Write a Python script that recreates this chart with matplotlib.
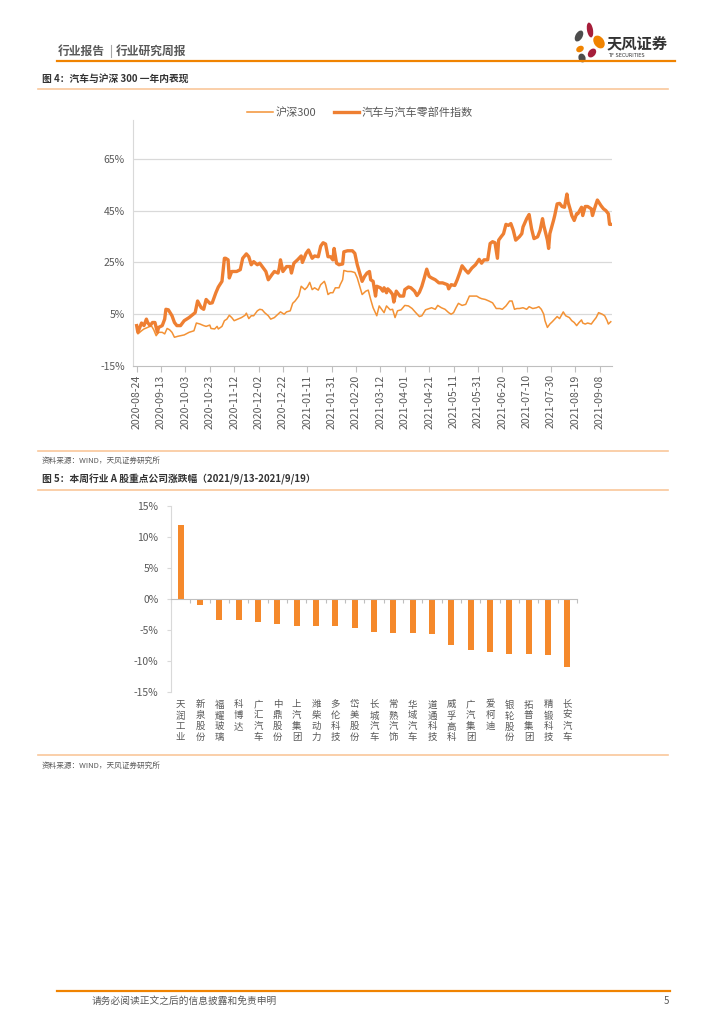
""" Auto sector vs CSI 300, and weekly moves of key auto stocks """

import numpy as np
import pandas as pd
import matplotlib
matplotlib.use("Agg")
import matplotlib.pyplot as plt
import matplotlib.dates as mdates
import matplotlib.patches as patches
from matplotlib.ticker import FuncFormatter

plt.rcParams['font.family'] = ['Noto Sans CJK SC', 'DejaVu Sans']

W, H = 724, 1024

# ---- chart 1 data: day offset from start date, cumulative return in % ----
start_date = "2020-08-24"

auto_days = [0, 1, 4, 6, 8, 9, 11, 13, 15, 17, 18, 21, 23, 24, 26, 29, 31, 33,
             36, 39, 43, 48, 50, 53, 55, 57, 60, 62, 65, 67, 70, 72, 73, 75,
             76, 78, 82, 85, 87, 90, 92, 94, 96, 99, 101, 104, 106, 108, 111,
             113, 116, 117, 118, 120, 123, 126, 127, 129, 132, 135, 136, 139,
             141, 144, 146, 149, 151, 153, 155, 157, 159, 161, 162, 164, 166,
             169, 170, 173, 177, 179, 181, 183, 185, 187, 189, 191, 192, 194,
             196, 197, 200, 202, 203, 205, 206, 208, 210, 211, 213, 216, 219,
             220, 223, 225, 228, 230, 232, 234, 236, 238, 240, 242, 245, 248,
             251, 255, 256, 258, 261, 263, 265, 267, 270, 272, 275, 278, 281,
             283, 285, 288, 290, 292, 294, 296, 297, 299, 301, 303, 305, 307,
             309, 311, 314, 316, 317, 320, 322, 324, 326, 329, 331, 333, 334,
             337, 338, 339, 342, 343, 345, 347, 349, 351, 353, 354, 356, 357,
             359, 361, 362, 365, 366, 368, 370, 373, 374, 376, 378, 381, 383,
             385, 387, 388, 389]
auto_vals = [0.6, -2.0, 1.6, 0.6, 3.1, 1.8, 0.6, 1.8, 1.8, -2.0, -0.1, 0.6,
             3.1, 6.9, 6.7, 4.4, 1.8, 0.6, 0.6, 2.5, 3.7, 5.6, 10.1, 7.5, 6.9,
             10.7, 9.2, 9.4, 13.3, 15.5, 17.7, 26.6, 26.6, 26.0, 19.0, 21.5,
             21.5, 22.2, 26.6, 28.3, 27.2, 24.1, 25.3, 24.1, 24.7, 22.8, 21.5,
             18.3, 20.3, 21.5, 20.9, 22.8, 26.0, 21.5, 23.4, 23.4, 20.9, 24.7,
             26.0, 27.5, 25.0, 28.5, 29.8, 26.6, 27.5, 27.2, 31.3, 32.6, 32.1,
             27.2, 27.2, 26.0, 30.4, 24.7, 24.1, 24.4, 29.1, 29.5, 29.5, 28.5,
             24.1, 20.9, 17.7, 19.6, 20.9, 21.5, 18.3, 17.7, 12.0, 15.8, 15.2,
             13.9, 15.2, 13.3, 14.8, 13.9, 12.6, 9.7, 13.9, 12.0, 12.0, 14.5,
             15.5, 15.2, 13.9, 12.2, 13.5, 15.8, 19.0, 22.4, 19.6, 19.0, 18.3,
             17.1, 17.1, 16.4, 14.8, 16.4, 16.1, 18.3, 20.9, 23.7, 21.9, 20.9,
             22.8, 24.1, 26.2, 24.7, 26.0, 26.0, 32.3, 33.0, 32.6, 26.6, 33.6,
             34.9, 36.1, 39.7, 39.3, 40.0, 37.4, 33.6, 34.9, 36.1, 38.7, 41.9,
             43.5, 38.0, 34.2, 34.9, 37.4, 41.9, 39.3, 33.6, 30.4, 36.1, 41.2,
             43.1, 47.6, 47.8, 46.6, 46.3, 51.4, 48.2, 45.0, 43.1, 41.2, 43.8,
             43.8, 46.3, 43.1, 46.6, 46.6, 45.7, 43.1, 46.3, 49.1, 46.9, 45.7,
             45.0, 43.8, 39.7, 39.7]

hs300_days = [0, 1, 4, 6, 9, 12, 14, 16, 18, 21, 23, 25, 27, 29, 31, 34, 39,
              43, 47, 49, 52, 55, 57, 60, 61, 64, 66, 67, 70, 72, 74, 76, 78,
              80, 83, 86, 89, 90, 92, 94, 96, 99, 101, 103, 105, 108, 110, 113,
              116, 118, 121, 123, 126, 128, 130, 133, 135, 138, 140, 142, 144,
              146, 149, 151, 154, 155, 157, 159, 161, 163, 166, 167, 169, 170,
              173, 176, 179, 181, 183, 185, 188, 190, 192, 194, 197, 199, 201,
              203, 205, 208, 210, 212, 214, 217, 220, 223, 226, 229, 232, 234,
              237, 240, 242, 245, 247, 250, 253, 256, 258, 260, 262, 264, 267,
              270, 273, 276, 279, 281, 283, 286, 289, 292, 295, 298, 300, 303,
              306, 308, 310, 312, 314, 317, 320, 322, 325, 328, 330, 332, 334,
              335, 337, 339, 341, 343, 345, 347, 350, 352, 355, 357, 359, 361,
              363, 365, 366, 368, 370, 373, 375, 377, 379, 382, 384, 386, 387,
              389]
hs300_vals = [0.6, -2.6, -1.4, -0.7, -0.1, 0.6, -1.0, -3.3, -2.0, -2.0, -2.6,
              -0.5, -1.0, -2.0, -3.9, -3.5, -3.0, -2.0, -1.4, 1.6, 1.2, 0.6,
              0.3, 0.8, -0.5, -0.7, 0.3, -0.7, 0.3, 2.5, 3.1, 4.6, 3.7, 2.5,
              3.1, 3.7, 4.6, 5.4, 3.3, 4.4, 4.4, 6.3, 6.9, 6.7, 5.6, 4.4, 3.1,
              3.7, 5.0, 5.9, 5.0, 5.9, 6.3, 9.2, 10.1, 12.0, 15.8, 14.5, 15.5,
              17.3, 14.5, 15.2, 14.3, 16.4, 17.7, 16.4, 12.6, 13.3, 13.3, 15.2,
              15.2, 16.4, 18.3, 21.9, 21.5, 21.5, 21.1, 19.0, 15.8, 12.6, 13.9,
              14.3, 10.7, 7.5, 4.4, 8.2, 6.9, 5.6, 8.2, 6.7, 6.9, 3.7, 6.3, 6.7,
              8.4, 8.2, 7.2, 5.6, 4.1, 4.4, 6.7, 7.2, 7.5, 6.9, 8.4, 7.5, 6.9,
              5.6, 5.0, 5.6, 7.5, 9.2, 8.4, 8.8, 12.0, 12.0, 12.0, 11.4, 11.0,
              10.7, 10.1, 9.4, 7.2, 7.2, 6.9, 8.2, 10.1, 10.1, 6.9, 7.2, 7.2,
              7.5, 6.9, 7.9, 7.2, 7.5, 7.9, 6.9, 5.0, 2.5, -0.1, 1.2, 2.1, 3.1,
              4.1, 3.3, 5.9, 4.4, 3.7, 2.5, 1.8, 0.6, 1.8, 2.8, 1.6, 1.2, 1.6,
              1.2, 2.5, 3.7, 5.6, 5.0, 4.4, 2.5, 1.2, 2.1]

date_ticks = pd.date_range("2020-08-24", "2021-09-17", freq="20D")

# ---- chart 2 data: weekly change in % ----
companies = ["天润工业", "新泉股份", "福耀玻璃", "科博达", "广汇汽车", "中鼎股份",
             "上汽集团", "潍柴动力", "多伦科技", "岱美股份", "长城汽车", "常熟汽饰",
             "华域汽车", "道通科技", "威孚高科", "广汽集团", "爱柯迪", "银轮股份",
             "拓普集团", "精锻科技", "长安汽车"]
changes = [11.9, -1.0, -3.4, -3.4, -3.7, -4.1, -4.3, -4.3, -4.4, -4.6, -5.4,
           -5.5, -5.5, -5.6, -7.4, -8.2, -8.6, -8.8, -8.9, -9.1, -11.0]


def box(left, top, right, bottom):
    """ Pixel box to figure fraction """
    return [left / W, 1 - bottom / H, (right - left) / W, (bottom - top) / H]


def pct(v, _):
    return "%d%%" % round(v)


def draw_page(page):
    """ Header, captions, rules, footer """
    orange = "#F08300"
    rule = "#F9C79B"
    page.plot([57, 675], [60.5, 60.5], color=orange, lw=1.6)
    page.text(58, 51, "行业报告", fontsize=8.5, color="#595959",
              fontweight="bold", va="center")
    page.plot([111, 111], [45, 57], color="#A6A6A6", lw=0.8)
    page.text(116, 51, "行业研究周报", fontsize=8.5, color="#595959",
              fontweight="bold", va="center")
    # logo petals
    petals = [(579, 36, 7, 12, 30, "#4D4D4D"), (590, 30, 6, 15, -10, "#A61E3A"),
              (599, 42, 10, 14, -35, orange), (580, 49, 6, 8, 60, orange),
              (592, 53, 7, 10, 40, "#A61E3A"), (582, 58, 7, 9, -20, "#4D4D4D")]
    for x, y, w, h, a, c in petals:
        page.add_patch(patches.Ellipse((x, y), w, h, angle=a, color=c, lw=0))
    page.text(607, 43, "天风证券", fontsize=11, color="#333333",
              fontweight="bold", va="center")
    page.text(608, 55.5, "TF SECURITIES", fontsize=3.6, color="#333333",
              va="center", family="DejaVu Sans")

    page.text(42, 79, "图 4：汽车与沪深 300 一年内表现", fontsize=7,
              color="#333333", fontweight="bold", va="center")
    page.plot([38, 668], [88.5, 88.5], color=rule, lw=1.2)
    page.plot([38, 668], [450.5, 450.5], color=rule, lw=1.2)
    page.text(42, 461, "资料来源：WIND，天风证券研究所", fontsize=5.5,
              color="#595959", va="center")
    page.text(42, 479, "图 5：本周行业 A 股重点公司涨跌幅（2021/9/13-2021/9/19）",
              fontsize=7, color="#333333", fontweight="bold", va="center")
    page.plot([38, 668], [489.5, 489.5], color=rule, lw=1.2)
    page.plot([38, 668], [754.5, 754.5], color=rule, lw=1.2)
    page.text(42, 766, "资料来源：WIND，天风证券研究所", fontsize=5.5,
              color="#595959", va="center")

    page.plot([57, 670], [990.5, 990.5], color=orange, lw=1.6)
    page.text(92, 1001, "请务必阅读正文之后的信息披露和免责申明", fontsize=7,
              color="#595959", va="center")
    page.text(664, 1001, "5", fontsize=7, color="#595959", va="center")


def plot_lines(fig):
    """ Auto index vs CSI 300 """
    ax = fig.add_axes(box(133, 120, 612, 366))
    start = np.datetime64(start_date)
    hs_dates = start + np.array(hs300_days).astype("timedelta64[D]")
    auto_dates = start + np.array(auto_days).astype("timedelta64[D]")
    ax.plot(hs_dates, hs300_vals, color="#F39235", lw=1.1, label="沪深300")
    ax.plot(auto_dates, auto_vals, color="#EE7F32", lw=2.4,
            label="汽车与汽车零部件指数")
    ax.set_ylim(-15, 80)
    ax.set_yticks([-15, 5, 25, 45, 65])
    ax.yaxis.set_major_formatter(FuncFormatter(pct))
    for v in [5, 25, 45, 65]:
        ax.axhline(v, color="#D9D9D9", lw=0.9, zorder=0)
    ax.set_xlim(np.datetime64("2020-08-21"), np.datetime64("2021-09-18"))
    ax.set_xticks(date_ticks)
    ax.xaxis.set_major_formatter(mdates.DateFormatter("%Y-%m-%d"))
    plt.setp(ax.get_xticklabels(), rotation=90)
    ax.tick_params(axis="x", length=4, color="#BFBFBF", labelsize=7.6,
                   labelcolor="#595959", pad=2)
    ax.tick_params(axis="y", length=0, labelsize=7.5, labelcolor="#595959",
                   pad=6)
    for s in ["top", "right"]:
        ax.spines[s].set_visible(False)
    ax.spines["left"].set_color("#D9D9D9")
    ax.spines["bottom"].set_color("#BFBFBF")
    leg = fig.legend(loc="center", bbox_to_anchor=(360 / W, 1 - 113 / H),
                     ncol=2, frameon=False, fontsize=8, handlelength=2.3,
                     handletextpad=0.2, columnspacing=1.6)
    for t in leg.get_texts():
        t.set_color("#595959")


def plot_bars(fig):
    """ Weekly move of key companies """
    ax = fig.add_axes(box(171, 506, 577, 692))
    x = np.arange(len(companies))
    ax.bar(x, changes, width=0.31, color="#F5892B")
    ax.set_xlim(-0.5, len(companies) - 0.5)
    ax.set_ylim(-15, 15)
    ax.set_yticks(range(-15, 16, 5))
    ax.yaxis.set_major_formatter(FuncFormatter(pct))
    ax.tick_params(axis="y", length=3, color="#D9D9D9", labelsize=7.5,
                   labelcolor="#595959", pad=6)
    ax.spines["bottom"].set_position(("data", 0))
    ax.spines["bottom"].set_color("#BFBFBF")
    ax.spines["left"].set_color("#D9D9D9")
    for s in ["top", "right"]:
        ax.spines[s].set_visible(False)
    ax.set_xticks(np.arange(-0.5, len(companies), 1))
    ax.set_xticklabels([])
    ax.tick_params(axis="x", length=3, color="#BFBFBF")
    for i, name in enumerate(companies):
        ax.text(i, -0.045, "\n".join(name), transform=ax.get_xaxis_transform(),
                ha="center", va="top", fontsize=6.8, linespacing=1.25,
                color="#595959")


def main():
    fig = plt.figure(figsize=(W / 100, H / 100), dpi=100)
    page = fig.add_axes([0, 0, 1, 1])
    page.set_xlim(0, W)
    page.set_ylim(H, 0)
    page.axis("off")
    draw_page(page)
    plot_lines(fig)
    plot_bars(fig)
    fig.savefig("out.png", dpi=100)


if __name__ == "__main__":
    main()
